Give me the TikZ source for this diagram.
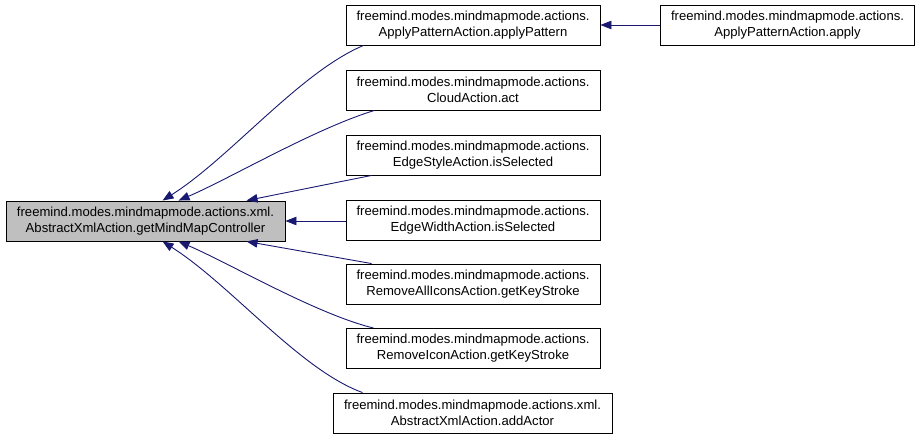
\documentclass[tikz,border=0pt]{standalone}
\usepackage{fontspec}
\setmainfont{Liberation Sans}
\usetikzlibrary{arrows.meta,calc}
\definecolor{edgeblue}{RGB}{25,25,112}
\definecolor{mainfill}{RGB}{191,191,191}
\begin{document}
\begin{tikzpicture}[x=1pt,y=-1pt,
  box/.style={draw=black,line width=0.9pt,fill=white,align=center,inner sep=0pt,
    minimum height=40pt,font=\fontsize{13.1}{16}\selectfont},
  colbox/.style={box,minimum width=254pt},
  edge/.style={draw=edgeblue,line width=0.9pt,-{Triangle[length=11pt,width=8.5pt]}}]
\useasboundingbox (0,0) rectangle (920,443);
\node[box,fill=mainfill,minimum width=279pt] (main) at (145.5,221)
  {freemind.modes.mindmapmode.actions.xml.\\AbstractXmlAction.getMindMapController};
\node[colbox] (ap) at (473,25) {freemind.modes.mindmapmode.actions.\\ApplyPatternAction.applyPattern};
\node[colbox] (apply) at (787.5,25) {freemind.modes.mindmapmode.actions.\\ApplyPatternAction.apply};
\node[colbox] (cl) at (473,90) {freemind.modes.mindmapmode.actions.\\CloudAction.act};
\node[colbox] (es) at (473,155) {freemind.modes.mindmapmode.actions.\\EdgeStyleAction.isSelected};
\node[colbox] (ew) at (473,220) {freemind.modes.mindmapmode.actions.\\EdgeWidthAction.isSelected};
\node[colbox] (ra) at (473,284) {freemind.modes.mindmapmode.actions.\\RemoveAllIconsAction.getKeyStroke};
\node[colbox] (ri) at (473,348.5) {freemind.modes.mindmapmode.actions.\\RemoveIconAction.getKeyStroke};
\node[box,minimum width=279pt] (aa) at (472.5,413) {freemind.modes.mindmapmode.actions.xml.\\AbstractXmlAction.addActor};
% edges
\draw[edge] (apply.west) -- (ap.east);
\draw[edge] ($(ap.south west)+(18,0)$) .. controls (300,72) and (230.5,157.5) .. ($(main.north west)+(157,0)$);
\draw[edge] ($(cl.south west)+(29,0)$) .. controls (316,128) and (229,179) .. ($(main.north west)+(173,0)$);
\draw[edge] ($(es.south west)+(26,0)$) -- ($(main.north west)+(241,0)$);
\draw[edge] (ew.west |- main.east) -- (main.east);
\draw[edge] ($(ra.north west)+(26,0)$) -- ($(main.south west)+(241,0)$);
\draw[edge] ($(ri.north west)+(28,0)$) .. controls (316,314) and (229,263) .. ($(main.south west)+(173,0)$);
\draw[edge] ($(aa.north west)+(30,0)$) .. controls (300,370) and (230.5,284.5) .. ($(main.south west)+(157,0)$);
\end{tikzpicture}
\end{document}
